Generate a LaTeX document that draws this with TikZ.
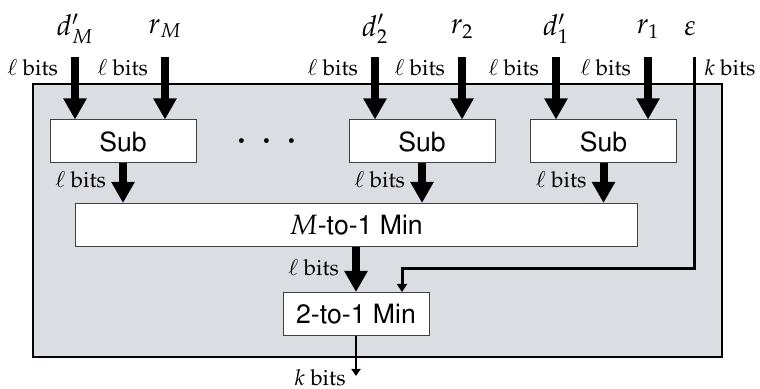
\documentclass[tikz,border=0pt]{standalone}
\usepackage[T1]{fontenc}
\usepackage{mathpazo}
\usepackage[scaled=0.95]{helvet}
\usetikzlibrary{arrows.meta}
\definecolor{panelgray}{RGB}{218,221,226}
\tikzset{
  blk/.style = {draw=black!75, fill=white, line width=0.5pt, inner sep=0pt,
    minimum height=21.5pt, font=\sffamily\fontsize{14}{16}\selectfont},
  blk_sub/.style = {blk, minimum width=73pt},% bloc etroit
  blk_wide/.style = {blk, minimum width=281pt},% bloc large
  bus_w/.style = {line width=4pt, -{Triangle[width=11pt,length=10.5pt]}},
  bus_k/.style = {line width=1.5pt, -{Triangle[width=5pt,length=4pt]}},
  bus_o/.style = {line width=1.25pt, -{Triangle[width=4.5pt,length=3.5pt]}},
  bitlbl/.style = {inner sep=1pt, font=\fontsize{11}{13}\selectfont},
  varlbl/.style = {inner sep=0pt, font=\Large}
}
\begin{document}
\begin{tikzpicture}[x=0.5pt,y=-0.5pt]
\useasboundingbox (0,0) rectangle (760,389);
\draw [fill=panelgray, line width=0.9pt] (33,84) rectangle (722,357);
% blocs
\node [blk_sub] (sub1) at (123,141.5) {Sub};
\node [blk_sub] (sub2) at (422,141.5) {Sub};
\node [blk_sub] (sub3) at (603.5,141.5) {Sub};
\node (dots) at (267,142) {\fontsize{22}{24}\selectfont$\cdot\hspace{1.5pt}\cdot\hspace{1.5pt}\cdot$};
\node [blk_wide] (mmin) at (356,225) {$M$-to-1 Min};
\node [blk_sub] (tmin) at (356,314) {2-to-1 Min};
% entrees
\coordinate (inMd) at (75,57);
\coordinate (inMr) at (165,57);
\coordinate (inBd) at (375,57);
\coordinate (inBr) at (462,57);
\coordinate (inAd) at (556,57);
\coordinate (inAr) at (648,57);
\coordinate (eps) at (694,57);
\node [varlbl] (lblMd) at (75,29) {$d'_M$};
\node [varlbl] (lblMr) at (165,29) {$r_M$};
\node [varlbl] (lblBd) at (375,29) {$d'_2$};
\node [varlbl] (lblBr) at (462,29) {$r_2$};
\node [varlbl] (lblAd) at (556,29) {$d'_1$};
\node [varlbl] (lblAr) at (648,29) {$r_1$};
\node [varlbl] (lbleps) at (690,29) {$\varepsilon$};
\draw [bus_w] (inMd) -- node [bitlbl, pos=0.175, left=5.5pt] {$\ell$ bits} (inMd |- sub1.north);
\draw [bus_w] (inMr) -- node [bitlbl, pos=0.175, left=5.5pt] {$\ell$ bits} (inMr |- sub1.north);
\draw [bus_w] (inBd) -- node [bitlbl, pos=0.175, left=5.5pt] {$\ell$ bits} (inBd |- sub2.north);
\draw [bus_w] (inBr) -- node [bitlbl, pos=0.175, left=5.5pt] {$\ell$ bits} (inBr |- sub2.north);
\draw [bus_w] (inAd) -- node [bitlbl, pos=0.175, left=5.5pt] {$\ell$ bits} (inAd |- sub3.north);
\draw [bus_w] (inAr) -- node [bitlbl, pos=0.175, left=5.5pt] {$\ell$ bits} (inAr |- sub3.north);
% sorties des Sub
\draw [bus_w] (sub1.south) -- node [bitlbl, pos=0.42, left=5.5pt] {$\ell$ bits} (sub1.south |- mmin.north);
\draw [bus_w] (sub2.south) -- node [bitlbl, pos=0.42, left=5.5pt] {$\ell$ bits} (sub2.south |- mmin.north);
\draw [bus_w] (sub3.south) -- node [bitlbl, pos=0.42, left=5.5pt] {$\ell$ bits} (sub3.south |- mmin.north);
\draw [bus_w] (mmin.south) -- node [bitlbl, pos=0.47, left=5.5pt] {$\ell$ bits} (tmin.north);
% epsilon
\coordinate (epsbend) at (402,269);
\draw [bus_k] (eps) -- node [bitlbl, pos=0.052, right=3.5pt] {$k$ bits} (eps |- epsbend)
  -- (epsbend) -- (epsbend |- tmin.north);
% sortie
\coordinate (kout) at (356,376);
\draw [bus_o] (tmin.south) -- (kout);
\node [bitlbl, anchor=east] (koutlbl) at ([xshift=-4pt, yshift=-1pt]kout) {$k$ bits};
\end{tikzpicture}
\end{document}
